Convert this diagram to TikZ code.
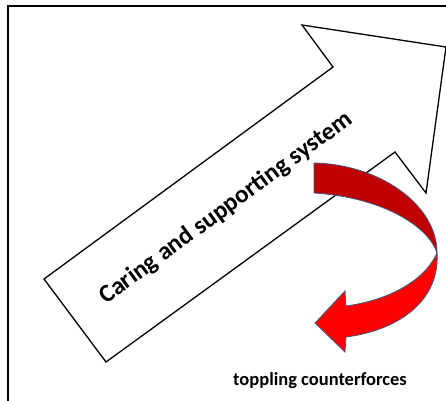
\documentclass[tikz,border=0pt]{standalone}
\usepackage{fontspec}
\setmainfont{Carlito}
\begin{document}
\begin{tikzpicture}[x=1pt,y=-1pt,
  frame/.style={line width=1.6pt,black},
  bigarrow/.style={draw=black,line width=1.3pt,fill=white,line join=miter},
  lbl/.style={font=\bfseries,text=black,inner sep=0pt}]
\useasboundingbox (0,0) rectangle (446,400);
\fill[white] (0,0) rectangle (446,400);
% frame
\draw[frame] (8,401) -- (8,6) -- (447,6);
% big arrow
\draw[bigarrow] (44,279) -- (333,67) -- (302,25) -- (446,47) -- (426,193) -- (395,152) -- (106,362) -- cycle;
\node[lbl,font=\bfseries\fontsize{25}{25}\selectfont,rotate=36.3] (cs) at (226,208) {Caring and supporting system};
% curved red arrow: upper (dark) band
\path[fill={rgb,255:red,192;green,0;blue,0},draw={rgb,255:red,65;green,90;blue,130},line width=0.8pt]
  (314,163) .. controls (377,164) and (437,203) .. (437,253)
  .. controls (428,225) and (380,197) .. (314,193) -- cycle;
% lower (bright) band with head
\path[fill={rgb,255:red,255;green,0;blue,0},draw={rgb,255:red,65;green,90;blue,130},line width=0.8pt,line join=miter]
  (437,253) .. controls (440,300) and (400,330) .. (346,337)
  -- (345,352) -- (315,323) -- (345,291) -- (346,306)
  .. controls (390,300) and (425,280) .. (437,253) -- cycle;
\node[lbl,font=\bfseries\fontsize{18.5}{18.5}\selectfont,anchor=base] (tc) at (320,385) {toppling counterforces};
\end{tikzpicture}
\end{document}
